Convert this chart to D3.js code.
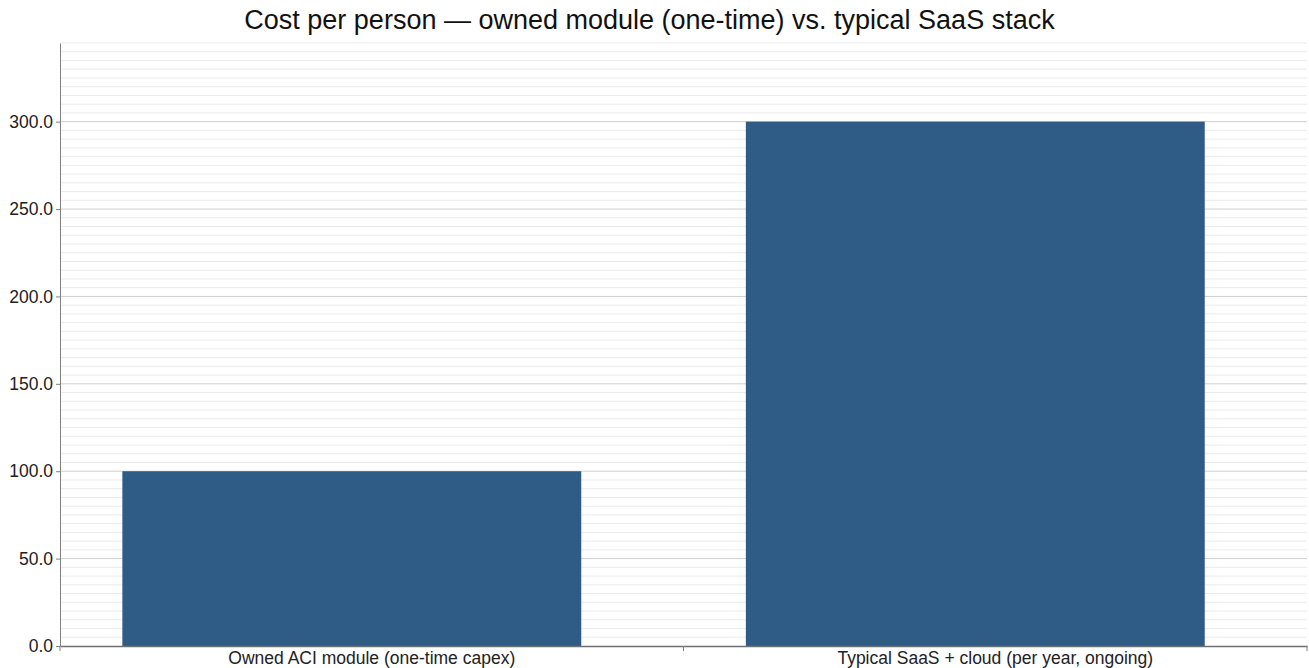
<!DOCTYPE html>
<html>
<head>
<meta charset="utf-8">
<script src="https://cdn.jsdelivr.net/npm/d3@7"></script>
<style>
  body { margin: 0; background: #fff; }
  svg text { font-family: "Liberation Sans", Arial, sans-serif; }
</style>
</head>
<body>
<div id="container"></div>
<script>
// data
var categories = ["Owned ACI module (one-time capex)", "Typical SaaS + cloud (per year, ongoing)"];
var costs = [100, 300];
var title = "Cost per person \u2014 owned module (one-time) vs. typical SaaS stack";

// parameters
var width = 1309,
    height = 668,
    margin = { top: 43, right: 2, bottom: 22, left: 60 },
    yMax = 345;

var svg = d3.select("#container")
    .append("svg")
    .attr("width", width)
    .attr("height", height);

var x = d3.scaleBand()
    .domain(categories)
    .range([margin.left, width - margin.right]);

var y = d3.scaleLinear()
    .domain([0, yMax])
    .range([height - margin.bottom, margin.top]);

// minor grid every 5
svg.append("g")
    .selectAll("line")
    .data(d3.range(5, yMax + 0.1, 5).filter(function (d) { return d % 50 != 0 }))
    .enter()
    .append("line")
    .attr("x1", margin.left)
    .attr("x2", width - margin.right)
    .attr("y1", function (d) { return y(d) })
    .attr("y2", function (d) { return y(d) })
    .attr("stroke", "#ebebeb")
    .attr("stroke-width", 1);

// major grid every 50
svg.append("g")
    .selectAll("line")
    .data(d3.range(50, yMax, 50))
    .enter()
    .append("line")
    .attr("x1", margin.left)
    .attr("x2", width - margin.right)
    .attr("y1", function (d) { return y(d) })
    .attr("y2", function (d) { return y(d) })
    .attr("stroke", "#cfcfcf")
    .attr("stroke-width", 1);

// bars
var bw = x.bandwidth();
svg.append("g")
    .selectAll("rect")
    .data(costs)
    .enter()
    .append("rect")
    .attr("x", function (d, i) { return x(categories[i]) + bw * 0.1 })
    .attr("width", bw * 0.736)
    .attr("y", function (d) { return y(d) })
    .attr("height", function (d) { return y(0) - y(d) })
    .attr("fill", "#2f5b87");

// y axis
var yAxis = svg.append("g")
    .attr("transform", "translate(" + margin.left + ",0)")
    .call(d3.axisLeft(y).tickValues(d3.range(0, yMax, 50)).tickFormat(d3.format(".1f")).tickSize(4).tickSizeOuter(0));
yAxis.select(".domain").attr("stroke", "#808080");
yAxis.selectAll(".tick line").attr("stroke", "#808080");
yAxis.selectAll(".tick text")
    .attr("fill", "#222")
    .style("font-size", "17.5px")
    .attr("x", -7);

// x axis
var xAxis = svg.append("g")
    .attr("transform", "translate(0," + y(0) + ")")
    .call(d3.axisBottom(x).tickSize(0).tickSizeOuter(0));
xAxis.select(".domain").attr("stroke", "#707070").attr("stroke-width", 1.5);
xAxis.selectAll(".tick text")
    .attr("fill", "#222")
    .attr("dy", "0.71em")
    .attr("y", 6)
    .style("font-size", "17.5px");

// separators between categories
svg.append("g")
    .selectAll("line")
    .data([x.range()[0], x(categories[1]), x.range()[1]])
    .enter()
    .append("line")
    .attr("x1", function (d) { return d })
    .attr("x2", function (d) { return d })
    .attr("y1", y(0))
    .attr("y2", y(0) + 5)
    .attr("stroke", "#808080");

// title
svg.append("text")
    .attr("x", width / 2 - 5)
    .attr("y", 29)
    .attr("text-anchor", "middle")
    .attr("fill", "#111")
    .style("font-size", "27px")
    .text(title);
</script>
</body>
</html>
